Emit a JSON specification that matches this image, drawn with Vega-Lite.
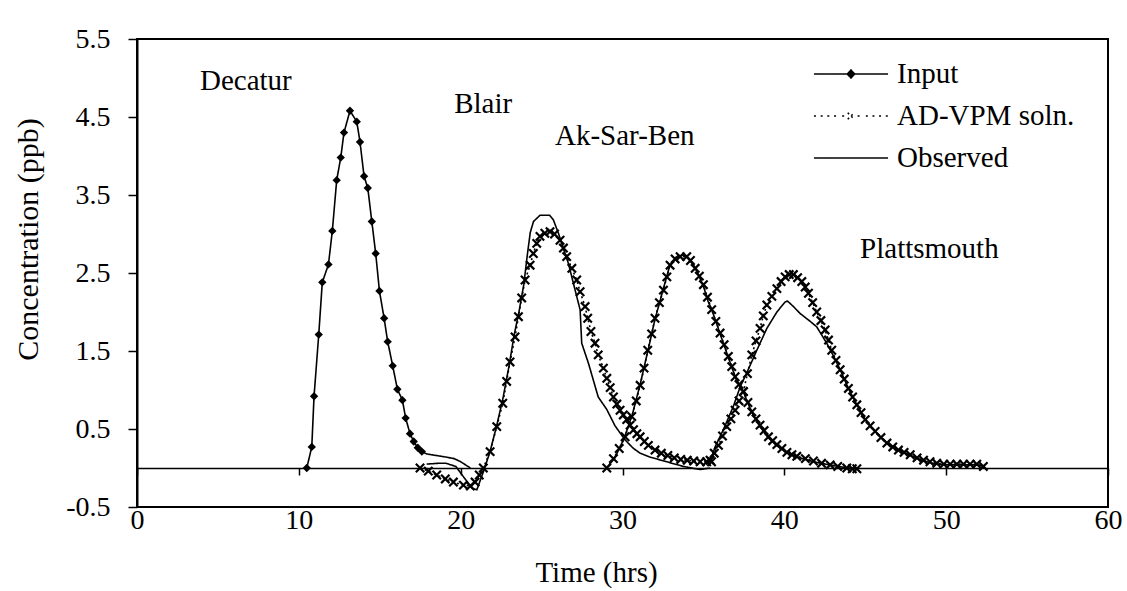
{
  "$schema": "https://vega.github.io/schema/vega-lite/v6.json",
  "width": 971,
  "height": 468,
  "autosize": {"type": "none"},
  "padding": {"left": 137, "top": 39, "right": 19, "bottom": 84},
  "background": "white",
  "config": {
    "view": {"stroke": "black", "strokeWidth": 2},
    "font": "Liberation Serif, Times New Roman, serif"
  },
  "datasets": {
    "curves": [
      {"series":"Input","station":"Decatur","t":10.49,"c":0.0},
      {"series":"Input","station":"Decatur","t":10.80,"c":0.27},
      {"series":"Input","station":"Decatur","t":10.94,"c":0.92},
      {"series":"Input","station":"Decatur","t":11.23,"c":1.71},
      {"series":"Input","station":"Decatur","t":11.45,"c":2.38},
      {"series":"Input","station":"Decatur","t":11.83,"c":2.61},
      {"series":"Input","station":"Decatur","t":12.07,"c":3.04},
      {"series":"Input","station":"Decatur","t":12.34,"c":3.69},
      {"series":"Input","station":"Decatur","t":12.59,"c":3.98},
      {"series":"Input","station":"Decatur","t":12.79,"c":4.30},
      {"series":"Input","station":"Decatur","t":13.16,"c":4.58},
      {"series":"Input","station":"Decatur","t":13.58,"c":4.44},
      {"series":"Input","station":"Decatur","t":13.78,"c":4.18},
      {"series":"Input","station":"Decatur","t":14.03,"c":3.74},
      {"series":"Input","station":"Decatur","t":14.26,"c":3.59},
      {"series":"Input","station":"Decatur","t":14.51,"c":3.16},
      {"series":"Input","station":"Decatur","t":14.75,"c":2.75},
      {"series":"Input","station":"Decatur","t":14.98,"c":2.27},
      {"series":"Input","station":"Decatur","t":15.27,"c":1.92},
      {"series":"Input","station":"Decatur","t":15.49,"c":1.62},
      {"series":"Input","station":"Decatur","t":15.80,"c":1.31},
      {"series":"Input","station":"Decatur","t":16.09,"c":1.01},
      {"series":"Input","station":"Decatur","t":16.40,"c":0.87},
      {"series":"Input","station":"Decatur","t":16.60,"c":0.64},
      {"series":"Input","station":"Decatur","t":16.87,"c":0.44},
      {"series":"Input","station":"Decatur","t":17.10,"c":0.34},
      {"series":"Input","station":"Decatur","t":17.35,"c":0.26},
      {"series":"Input","station":"Decatur","t":17.60,"c":0.21},
      {"series":"Input","station":"Decatur","t":17.90,"c":0.18},
      {"series":"Input","station":"Decatur","t":18.50,"c":0.16},
      {"series":"Input","station":"Decatur","t":19.10,"c":0.14},
      {"series":"Input","station":"Decatur","t":19.60,"c":0.12},
      {"series":"Input","station":"Decatur","t":20.00,"c":0.08},
      {"series":"Input","station":"Decatur","t":20.30,"c":0.04},
      {"series":"Input","station":"Decatur","t":20.60,"c":0.0},

      {"series":"AD-VPM soln.","station":"Blair","t":17.49,"c":0.0},
      {"series":"AD-VPM soln.","station":"Blair","t":18.0,"c":-0.04},
      {"series":"AD-VPM soln.","station":"Blair","t":18.52,"c":-0.09},
      {"series":"AD-VPM soln.","station":"Blair","t":19.05,"c":-0.14},
      {"series":"AD-VPM soln.","station":"Blair","t":19.55,"c":-0.18},
      {"series":"AD-VPM soln.","station":"Blair","t":20.17,"c":-0.22},
      {"series":"AD-VPM soln.","station":"Blair","t":20.6,"c":-0.23},
      {"series":"AD-VPM soln.","station":"Blair","t":20.89,"c":-0.18},
      {"series":"AD-VPM soln.","station":"Blair","t":21.15,"c":-0.09},
      {"series":"AD-VPM soln.","station":"Blair","t":21.4,"c":0.0},
      {"series":"AD-VPM soln.","station":"Blair","t":21.82,"c":0.21},
      {"series":"AD-VPM soln.","station":"Blair","t":22.23,"c":0.53},
      {"series":"AD-VPM soln.","station":"Blair","t":22.6,"c":0.83},
      {"series":"AD-VPM soln.","station":"Blair","t":22.84,"c":1.11},
      {"series":"AD-VPM soln.","station":"Blair","t":23.05,"c":1.36},
      {"series":"AD-VPM soln.","station":"Blair","t":23.36,"c":1.68},
      {"series":"AD-VPM soln.","station":"Blair","t":23.57,"c":1.94},
      {"series":"AD-VPM soln.","station":"Blair","t":23.77,"c":2.18},
      {"series":"AD-VPM soln.","station":"Blair","t":23.98,"c":2.41},
      {"series":"AD-VPM soln.","station":"Blair","t":24.29,"c":2.60},
      {"series":"AD-VPM soln.","station":"Blair","t":24.49,"c":2.75},
      {"series":"AD-VPM soln.","station":"Blair","t":24.7,"c":2.88},
      {"series":"AD-VPM soln.","station":"Blair","t":24.9,"c":2.97},
      {"series":"AD-VPM soln.","station":"Blair","t":25.2,"c":3.01},
      {"series":"AD-VPM soln.","station":"Blair","t":25.52,"c":3.03},
      {"series":"AD-VPM soln.","station":"Blair","t":25.8,"c":3.0},
      {"series":"AD-VPM soln.","station":"Blair","t":26.14,"c":2.92},
      {"series":"AD-VPM soln.","station":"Blair","t":26.35,"c":2.82},
      {"series":"AD-VPM soln.","station":"Blair","t":26.55,"c":2.71},
      {"series":"AD-VPM soln.","station":"Blair","t":26.87,"c":2.56},
      {"series":"AD-VPM soln.","station":"Blair","t":27.17,"c":2.41},
      {"series":"AD-VPM soln.","station":"Blair","t":27.38,"c":2.26},
      {"series":"AD-VPM soln.","station":"Blair","t":27.69,"c":2.07},
      {"series":"AD-VPM soln.","station":"Blair","t":27.85,"c":1.92},
      {"series":"AD-VPM soln.","station":"Blair","t":28.05,"c":1.75},
      {"series":"AD-VPM soln.","station":"Blair","t":28.3,"c":1.60},
      {"series":"AD-VPM soln.","station":"Blair","t":28.5,"c":1.45},
      {"series":"AD-VPM soln.","station":"Blair","t":28.82,"c":1.28},
      {"series":"AD-VPM soln.","station":"Blair","t":29.03,"c":1.15},
      {"series":"AD-VPM soln.","station":"Blair","t":29.24,"c":1.03},
      {"series":"AD-VPM soln.","station":"Blair","t":29.44,"c":0.91},
      {"series":"AD-VPM soln.","station":"Blair","t":29.65,"c":0.82},
      {"series":"AD-VPM soln.","station":"Blair","t":29.85,"c":0.74},
      {"series":"AD-VPM soln.","station":"Blair","t":30.05,"c":0.68},
      {"series":"AD-VPM soln.","station":"Blair","t":30.26,"c":0.62},
      {"series":"AD-VPM soln.","station":"Blair","t":30.47,"c":0.55},
      {"series":"AD-VPM soln.","station":"Blair","t":30.68,"c":0.49},
      {"series":"AD-VPM soln.","station":"Blair","t":30.89,"c":0.44},
      {"series":"AD-VPM soln.","station":"Blair","t":31.09,"c":0.40},
      {"series":"AD-VPM soln.","station":"Blair","t":31.35,"c":0.34},
      {"series":"AD-VPM soln.","station":"Blair","t":31.6,"c":0.29},
      {"series":"AD-VPM soln.","station":"Blair","t":32.01,"c":0.23},
      {"series":"AD-VPM soln.","station":"Blair","t":32.4,"c":0.19},
      {"series":"AD-VPM soln.","station":"Blair","t":32.8,"c":0.16},
      {"series":"AD-VPM soln.","station":"Blair","t":33.2,"c":0.13},
      {"series":"AD-VPM soln.","station":"Blair","t":33.6,"c":0.11},
      {"series":"AD-VPM soln.","station":"Blair","t":34.0,"c":0.10},
      {"series":"AD-VPM soln.","station":"Blair","t":34.4,"c":0.09},
      {"series":"AD-VPM soln.","station":"Blair","t":34.8,"c":0.08},
      {"series":"AD-VPM soln.","station":"Blair","t":35.2,"c":0.08},
      {"series":"AD-VPM soln.","station":"Blair","t":35.5,"c":0.08},

      {"series":"Observed","station":"Blair","t":17.9,"c":0.05},
      {"series":"Observed","station":"Blair","t":18.6,"c":0.06},
      {"series":"Observed","station":"Blair","t":19.1,"c":0.06},
      {"series":"Observed","station":"Blair","t":19.7,"c":0.02},
      {"series":"Observed","station":"Blair","t":20.2,"c":-0.12},
      {"series":"Observed","station":"Blair","t":20.7,"c":-0.26},
      {"series":"Observed","station":"Blair","t":21.0,"c":-0.28},
      {"series":"Observed","station":"Blair","t":21.4,"c":-0.05},
      {"series":"Observed","station":"Blair","t":21.8,"c":0.2},
      {"series":"Observed","station":"Blair","t":22.2,"c":0.52},
      {"series":"Observed","station":"Blair","t":22.6,"c":0.88},
      {"series":"Observed","station":"Blair","t":23.0,"c":1.32},
      {"series":"Observed","station":"Blair","t":23.3,"c":1.70},
      {"series":"Observed","station":"Blair","t":23.6,"c":2.0},
      {"series":"Observed","station":"Blair","t":23.9,"c":2.35},
      {"series":"Observed","station":"Blair","t":24.1,"c":2.7},
      {"series":"Observed","station":"Blair","t":24.3,"c":3.02},
      {"series":"Observed","station":"Blair","t":24.5,"c":3.16},
      {"series":"Observed","station":"Blair","t":24.9,"c":3.24},
      {"series":"Observed","station":"Blair","t":25.5,"c":3.24},
      {"series":"Observed","station":"Blair","t":25.73,"c":3.18},
      {"series":"Observed","station":"Blair","t":26.04,"c":3.01},
      {"series":"Observed","station":"Blair","t":26.66,"c":2.62},
      {"series":"Observed","station":"Blair","t":27.17,"c":2.20},
      {"series":"Observed","station":"Blair","t":27.38,"c":2.03},
      {"series":"Observed","station":"Blair","t":27.48,"c":1.60},
      {"series":"Observed","station":"Blair","t":27.9,"c":1.34},
      {"series":"Observed","station":"Blair","t":28.5,"c":0.91},
      {"series":"Observed","station":"Blair","t":29.03,"c":0.75},
      {"series":"Observed","station":"Blair","t":29.54,"c":0.54},
      {"series":"Observed","station":"Blair","t":30.16,"c":0.36},
      {"series":"Observed","station":"Blair","t":30.68,"c":0.25},
      {"series":"Observed","station":"Blair","t":31.09,"c":0.19},
      {"series":"Observed","station":"Blair","t":31.7,"c":0.14},
      {"series":"Observed","station":"Blair","t":32.73,"c":0.08},
      {"series":"Observed","station":"Blair","t":33.76,"c":0.02},
      {"series":"Observed","station":"Blair","t":34.8,"c":-0.02},
      {"series":"Observed","station":"Blair","t":35.4,"c":0.0},

      {"series":"AD-VPM soln.","station":"Ak-Sar-Ben","t":29.03,"c":0.0},
      {"series":"AD-VPM soln.","station":"Ak-Sar-Ben","t":29.44,"c":0.12},
      {"series":"AD-VPM soln.","station":"Ak-Sar-Ben","t":29.8,"c":0.25},
      {"series":"AD-VPM soln.","station":"Ak-Sar-Ben","t":30.16,"c":0.40},
      {"series":"AD-VPM soln.","station":"Ak-Sar-Ben","t":30.57,"c":0.66},
      {"series":"AD-VPM soln.","station":"Ak-Sar-Ben","t":30.85,"c":0.86},
      {"series":"AD-VPM soln.","station":"Ak-Sar-Ben","t":31.09,"c":1.06},
      {"series":"AD-VPM soln.","station":"Ak-Sar-Ben","t":31.33,"c":1.28},
      {"series":"AD-VPM soln.","station":"Ak-Sar-Ben","t":31.56,"c":1.51},
      {"series":"AD-VPM soln.","station":"Ak-Sar-Ben","t":31.8,"c":1.72},
      {"series":"AD-VPM soln.","station":"Ak-Sar-Ben","t":32.01,"c":1.92},
      {"series":"AD-VPM soln.","station":"Ak-Sar-Ben","t":32.28,"c":2.12},
      {"series":"AD-VPM soln.","station":"Ak-Sar-Ben","t":32.53,"c":2.28},
      {"series":"AD-VPM soln.","station":"Ak-Sar-Ben","t":32.74,"c":2.45},
      {"series":"AD-VPM soln.","station":"Ak-Sar-Ben","t":32.94,"c":2.60},
      {"series":"AD-VPM soln.","station":"Ak-Sar-Ben","t":33.25,"c":2.68},
      {"series":"AD-VPM soln.","station":"Ak-Sar-Ben","t":33.56,"c":2.71},
      {"series":"AD-VPM soln.","station":"Ak-Sar-Ben","t":33.97,"c":2.71},
      {"series":"AD-VPM soln.","station":"Ak-Sar-Ben","t":34.2,"c":2.66},
      {"series":"AD-VPM soln.","station":"Ak-Sar-Ben","t":34.49,"c":2.56},
      {"series":"AD-VPM soln.","station":"Ak-Sar-Ben","t":34.75,"c":2.46},
      {"series":"AD-VPM soln.","station":"Ak-Sar-Ben","t":35.0,"c":2.35},
      {"series":"AD-VPM soln.","station":"Ak-Sar-Ben","t":35.25,"c":2.19},
      {"series":"AD-VPM soln.","station":"Ak-Sar-Ben","t":35.51,"c":2.03},
      {"series":"AD-VPM soln.","station":"Ak-Sar-Ben","t":35.77,"c":1.88},
      {"series":"AD-VPM soln.","station":"Ak-Sar-Ben","t":36.03,"c":1.73},
      {"series":"AD-VPM soln.","station":"Ak-Sar-Ben","t":36.28,"c":1.58},
      {"series":"AD-VPM soln.","station":"Ak-Sar-Ben","t":36.54,"c":1.43},
      {"series":"AD-VPM soln.","station":"Ak-Sar-Ben","t":36.75,"c":1.30},
      {"series":"AD-VPM soln.","station":"Ak-Sar-Ben","t":36.96,"c":1.17},
      {"series":"AD-VPM soln.","station":"Ak-Sar-Ben","t":37.2,"c":1.07},
      {"series":"AD-VPM soln.","station":"Ak-Sar-Ben","t":37.47,"c":0.98},
      {"series":"AD-VPM soln.","station":"Ak-Sar-Ben","t":37.75,"c":0.84},
      {"series":"AD-VPM soln.","station":"Ak-Sar-Ben","t":37.99,"c":0.72},
      {"series":"AD-VPM soln.","station":"Ak-Sar-Ben","t":38.25,"c":0.63},
      {"series":"AD-VPM soln.","station":"Ak-Sar-Ben","t":38.5,"c":0.55},
      {"series":"AD-VPM soln.","station":"Ak-Sar-Ben","t":38.75,"c":0.48},
      {"series":"AD-VPM soln.","station":"Ak-Sar-Ben","t":39.02,"c":0.40},
      {"series":"AD-VPM soln.","station":"Ak-Sar-Ben","t":39.28,"c":0.35},
      {"series":"AD-VPM soln.","station":"Ak-Sar-Ben","t":39.54,"c":0.30},
      {"series":"AD-VPM soln.","station":"Ak-Sar-Ben","t":39.85,"c":0.25},
      {"series":"AD-VPM soln.","station":"Ak-Sar-Ben","t":40.16,"c":0.20},
      {"series":"AD-VPM soln.","station":"Ak-Sar-Ben","t":40.47,"c":0.17},
      {"series":"AD-VPM soln.","station":"Ak-Sar-Ben","t":40.77,"c":0.15},
      {"series":"AD-VPM soln.","station":"Ak-Sar-Ben","t":41.3,"c":0.12},
      {"series":"AD-VPM soln.","station":"Ak-Sar-Ben","t":41.8,"c":0.09},
      {"series":"AD-VPM soln.","station":"Ak-Sar-Ben","t":42.3,"c":0.06},
      {"series":"AD-VPM soln.","station":"Ak-Sar-Ben","t":42.83,"c":0.04},
      {"series":"AD-VPM soln.","station":"Ak-Sar-Ben","t":43.3,"c":0.02},
      {"series":"AD-VPM soln.","station":"Ak-Sar-Ben","t":43.86,"c":0.0},
      {"series":"AD-VPM soln.","station":"Ak-Sar-Ben","t":44.2,"c":-0.01},
      {"series":"AD-VPM soln.","station":"Ak-Sar-Ben","t":44.48,"c":-0.01},

      {"series":"Observed","station":"Ak-Sar-Ben","t":29.0,"c":0.0},
      {"series":"Observed","station":"Ak-Sar-Ben","t":29.5,"c":0.12},
      {"series":"Observed","station":"Ak-Sar-Ben","t":30.1,"c":0.38},
      {"series":"Observed","station":"Ak-Sar-Ben","t":30.6,"c":0.68},
      {"series":"Observed","station":"Ak-Sar-Ben","t":31.1,"c":1.08},
      {"series":"Observed","station":"Ak-Sar-Ben","t":31.6,"c":1.53},
      {"series":"Observed","station":"Ak-Sar-Ben","t":32.0,"c":1.90},
      {"series":"Observed","station":"Ak-Sar-Ben","t":32.5,"c":2.28},
      {"series":"Observed","station":"Ak-Sar-Ben","t":32.9,"c":2.58},
      {"series":"Observed","station":"Ak-Sar-Ben","t":33.3,"c":2.70},
      {"series":"Observed","station":"Ak-Sar-Ben","t":33.7,"c":2.73},
      {"series":"Observed","station":"Ak-Sar-Ben","t":34.0,"c":2.70},
      {"series":"Observed","station":"Ak-Sar-Ben","t":34.5,"c":2.57},
      {"series":"Observed","station":"Ak-Sar-Ben","t":35.0,"c":2.33},
      {"series":"Observed","station":"Ak-Sar-Ben","t":35.3,"c":2.13},
      {"series":"Observed","station":"Ak-Sar-Ben","t":35.5,"c":2.04},
      {"series":"Observed","station":"Ak-Sar-Ben","t":36.0,"c":1.74},
      {"series":"Observed","station":"Ak-Sar-Ben","t":36.5,"c":1.44},
      {"series":"Observed","station":"Ak-Sar-Ben","t":37.0,"c":1.15},
      {"series":"Observed","station":"Ak-Sar-Ben","t":37.5,"c":0.96},
      {"series":"Observed","station":"Ak-Sar-Ben","t":38.0,"c":0.71},
      {"series":"Observed","station":"Ak-Sar-Ben","t":38.5,"c":0.53},
      {"series":"Observed","station":"Ak-Sar-Ben","t":39.0,"c":0.39},
      {"series":"Observed","station":"Ak-Sar-Ben","t":39.5,"c":0.29},
      {"series":"Observed","station":"Ak-Sar-Ben","t":40.2,"c":0.19},
      {"series":"Observed","station":"Ak-Sar-Ben","t":40.8,"c":0.14},
      {"series":"Observed","station":"Ak-Sar-Ben","t":41.8,"c":0.08},
      {"series":"Observed","station":"Ak-Sar-Ben","t":42.8,"c":0.04},
      {"series":"Observed","station":"Ak-Sar-Ben","t":43.9,"c":0.0},
      {"series":"Observed","station":"Ak-Sar-Ben","t":44.5,"c":-0.01},

      {"series":"AD-VPM soln.","station":"Plattsmouth","t":35.41,"c":0.10},
      {"series":"AD-VPM soln.","station":"Plattsmouth","t":35.67,"c":0.19},
      {"series":"AD-VPM soln.","station":"Plattsmouth","t":35.93,"c":0.29},
      {"series":"AD-VPM soln.","station":"Plattsmouth","t":36.18,"c":0.41},
      {"series":"AD-VPM soln.","station":"Plattsmouth","t":36.44,"c":0.53},
      {"series":"AD-VPM soln.","station":"Plattsmouth","t":36.7,"c":0.63},
      {"series":"AD-VPM soln.","station":"Plattsmouth","t":36.96,"c":0.74},
      {"series":"AD-VPM soln.","station":"Plattsmouth","t":37.2,"c":0.86},
      {"series":"AD-VPM soln.","station":"Plattsmouth","t":37.47,"c":0.98},
      {"series":"AD-VPM soln.","station":"Plattsmouth","t":37.72,"c":1.21},
      {"series":"AD-VPM soln.","station":"Plattsmouth","t":37.99,"c":1.45},
      {"series":"AD-VPM soln.","station":"Plattsmouth","t":38.25,"c":1.63},
      {"series":"AD-VPM soln.","station":"Plattsmouth","t":38.5,"c":1.79},
      {"series":"AD-VPM soln.","station":"Plattsmouth","t":38.7,"c":1.95},
      {"series":"AD-VPM soln.","station":"Plattsmouth","t":38.92,"c":2.09},
      {"series":"AD-VPM soln.","station":"Plattsmouth","t":39.23,"c":2.20},
      {"series":"AD-VPM soln.","station":"Plattsmouth","t":39.54,"c":2.30},
      {"series":"AD-VPM soln.","station":"Plattsmouth","t":39.8,"c":2.39},
      {"series":"AD-VPM soln.","station":"Plattsmouth","t":40.05,"c":2.45},
      {"series":"AD-VPM soln.","station":"Plattsmouth","t":40.3,"c":2.48},
      {"series":"AD-VPM soln.","station":"Plattsmouth","t":40.56,"c":2.48},
      {"series":"AD-VPM soln.","station":"Plattsmouth","t":40.82,"c":2.44},
      {"series":"AD-VPM soln.","station":"Plattsmouth","t":41.08,"c":2.39},
      {"series":"AD-VPM soln.","station":"Plattsmouth","t":41.29,"c":2.32},
      {"series":"AD-VPM soln.","station":"Plattsmouth","t":41.49,"c":2.24},
      {"series":"AD-VPM soln.","station":"Plattsmouth","t":41.75,"c":2.12},
      {"series":"AD-VPM soln.","station":"Plattsmouth","t":42.0,"c":2.00},
      {"series":"AD-VPM soln.","station":"Plattsmouth","t":42.26,"c":1.89},
      {"series":"AD-VPM soln.","station":"Plattsmouth","t":42.52,"c":1.77},
      {"series":"AD-VPM soln.","station":"Plattsmouth","t":42.73,"c":1.64},
      {"series":"AD-VPM soln.","station":"Plattsmouth","t":42.93,"c":1.51},
      {"series":"AD-VPM soln.","station":"Plattsmouth","t":43.19,"c":1.38},
      {"series":"AD-VPM soln.","station":"Plattsmouth","t":43.45,"c":1.26},
      {"series":"AD-VPM soln.","station":"Plattsmouth","t":43.7,"c":1.14},
      {"series":"AD-VPM soln.","station":"Plattsmouth","t":43.96,"c":1.02},
      {"series":"AD-VPM soln.","station":"Plattsmouth","t":44.22,"c":0.91},
      {"series":"AD-VPM soln.","station":"Plattsmouth","t":44.48,"c":0.81},
      {"series":"AD-VPM soln.","station":"Plattsmouth","t":44.74,"c":0.71},
      {"series":"AD-VPM soln.","station":"Plattsmouth","t":45.0,"c":0.62},
      {"series":"AD-VPM soln.","station":"Plattsmouth","t":45.3,"c":0.54},
      {"series":"AD-VPM soln.","station":"Plattsmouth","t":45.61,"c":0.47},
      {"series":"AD-VPM soln.","station":"Plattsmouth","t":45.97,"c":0.39},
      {"series":"AD-VPM soln.","station":"Plattsmouth","t":46.34,"c":0.32},
      {"series":"AD-VPM soln.","station":"Plattsmouth","t":46.7,"c":0.27},
      {"series":"AD-VPM soln.","station":"Plattsmouth","t":47.05,"c":0.23},
      {"series":"AD-VPM soln.","station":"Plattsmouth","t":47.4,"c":0.20},
      {"series":"AD-VPM soln.","station":"Plattsmouth","t":47.78,"c":0.17},
      {"series":"AD-VPM soln.","station":"Plattsmouth","t":48.2,"c":0.13},
      {"series":"AD-VPM soln.","station":"Plattsmouth","t":48.6,"c":0.10},
      {"series":"AD-VPM soln.","station":"Plattsmouth","t":49.0,"c":0.08},
      {"series":"AD-VPM soln.","station":"Plattsmouth","t":49.42,"c":0.06},
      {"series":"AD-VPM soln.","station":"Plattsmouth","t":49.85,"c":0.05},
      {"series":"AD-VPM soln.","station":"Plattsmouth","t":50.25,"c":0.05},
      {"series":"AD-VPM soln.","station":"Plattsmouth","t":50.66,"c":0.05},
      {"series":"AD-VPM soln.","station":"Plattsmouth","t":51.07,"c":0.05},
      {"series":"AD-VPM soln.","station":"Plattsmouth","t":51.48,"c":0.05},
      {"series":"AD-VPM soln.","station":"Plattsmouth","t":51.89,"c":0.05},
      {"series":"AD-VPM soln.","station":"Plattsmouth","t":52.3,"c":0.02},

      {"series":"Observed","station":"Plattsmouth","t":35.41,"c":0.08},
      {"series":"Observed","station":"Plattsmouth","t":35.72,"c":0.27},
      {"series":"Observed","station":"Plattsmouth","t":36.23,"c":0.49},
      {"series":"Observed","station":"Plattsmouth","t":36.85,"c":0.79},
      {"series":"Observed","station":"Plattsmouth","t":37.27,"c":1.04},
      {"series":"Observed","station":"Plattsmouth","t":37.68,"c":1.22},
      {"series":"Observed","station":"Plattsmouth","t":38.3,"c":1.51},
      {"series":"Observed","station":"Plattsmouth","t":38.92,"c":1.79},
      {"series":"Observed","station":"Plattsmouth","t":39.54,"c":2.0},
      {"series":"Observed","station":"Plattsmouth","t":40.05,"c":2.13},
      {"series":"Observed","station":"Plattsmouth","t":40.2,"c":2.14},
      {"series":"Observed","station":"Plattsmouth","t":40.56,"c":2.07},
      {"series":"Observed","station":"Plattsmouth","t":40.98,"c":1.98},
      {"series":"Observed","station":"Plattsmouth","t":41.6,"c":1.88},
      {"series":"Observed","station":"Plattsmouth","t":42.0,"c":1.81},
      {"series":"Observed","station":"Plattsmouth","t":42.62,"c":1.60},
      {"series":"Observed","station":"Plattsmouth","t":43.0,"c":1.45},
      {"series":"Observed","station":"Plattsmouth","t":43.45,"c":1.26},
      {"series":"Observed","station":"Plattsmouth","t":43.96,"c":1.02},
      {"series":"Observed","station":"Plattsmouth","t":44.48,"c":0.81},
      {"series":"Observed","station":"Plattsmouth","t":45.0,"c":0.62},
      {"series":"Observed","station":"Plattsmouth","t":45.61,"c":0.47},
      {"series":"Observed","station":"Plattsmouth","t":46.34,"c":0.32},
      {"series":"Observed","station":"Plattsmouth","t":47.05,"c":0.23},
      {"series":"Observed","station":"Plattsmouth","t":47.78,"c":0.16},
      {"series":"Observed","station":"Plattsmouth","t":48.6,"c":0.09},
      {"series":"Observed","station":"Plattsmouth","t":49.42,"c":0.05},
      {"series":"Observed","station":"Plattsmouth","t":50.25,"c":0.04},
      {"series":"Observed","station":"Plattsmouth","t":51.07,"c":0.04},
      {"series":"Observed","station":"Plattsmouth","t":51.89,"c":0.04},
      {"series":"Observed","station":"Plattsmouth","t":52.3,"c":0.02}
    ],
    "labels": [
      {"label":"Decatur","t":3.89,"c":4.85},
      {"label":"Blair","t":19.6,"c":4.55},
      {"label":"Ak-Sar-Ben","t":25.83,"c":4.14},
      {"label":"Plattsmouth","t":44.68,"c":2.69}
    ]
  },
  "layer": [
    {
      "data": {"name": "curves"},
      "mark": {"type": "line", "strokeWidth": 1.6},
      "encoding": {
        "x": {
          "field": "t", "type": "quantitative",
          "scale": {"domain": [0, 60], "nice": false, "zero": false},
          "axis": {
            "values": [0, 10, 20, 30, 40, 50, 60],
            "offset": -39,
            "grid": false,
            "domainColor": "black", "domainWidth": 1.5,
            "tickColor": "black", "tickSize": 7, "tickWidth": 1.5,
            "labelPadding": 31, "labelFont": "Liberation Serif, Times New Roman, serif", "labelFontSize": 28,
            "labelColor": "black", "labelFlush": false, "labelOverlap": false,
            "title": "Time (hrs)", "titleFont": "Liberation Serif, Times New Roman, serif", "titleFontSize": 29,
            "titleFontWeight": "normal", "titleColor": "black", "titlePadding": 24,
            "titleX": 459
          }
        },
        "y": {
          "field": "c", "type": "quantitative",
          "scale": {"domain": [-0.5, 5.5], "nice": false, "zero": false},
          "axis": {
            "values": [-0.5, 0.5, 1.5, 2.5, 3.5, 4.5, 5.5],
            "labelExpr": "datum.value < 0 ? '-' + format(-datum.value, '.1f') : format(datum.value, '.1f')",
            "grid": false,
            "domainColor": "black", "domainWidth": 2,
            "tickColor": "black", "tickSize": 9, "tickWidth": 1.5,
            "labelPadding": 18, "labelFont": "Liberation Serif, Times New Roman, serif", "labelFontSize": 28,
            "labelColor": "black",
            "title": "Concentration (ppb)", "titleFont": "Liberation Serif, Times New Roman, serif", "titleFontSize": 30,
            "titleFontWeight": "normal", "titleColor": "black", "titlePadding": 22,
            "titleY": 200
          }
        },
        "detail": {"field": "station"},
        "color": {
          "field": "series", "type": "nominal",
          "scale": {"domain": ["Input", "AD-VPM soln.", "Observed"], "range": ["black", "black", "black"]},
          "legend": {
            "orient": "none", "legendX": 698, "legendY": 19,
            "title": null, "padding": 0,
            "labelFont": "Liberation Serif, Times New Roman, serif", "labelFontSize": 29, "labelColor": "black",
            "labelOffset": 30, "rowPadding": 11, "labelLimit": 400,
            "symbolSize": 900, "symbolStrokeWidth": 1.5,
            "encode": {
              "symbols": {
                "update": {
                  "shape": {"signal": "datum.value === 'Input' ? 'M-2.47,0H2.47M0,-0.27L0.25,0L0,0.27L-0.25,0Z' : datum.value === 'AD-VPM soln.' ? 'M-2.47,0H-2.32M-2.02,0H-1.87M-1.58,0H-1.43M-1.13,0H-0.99M-0.59,0H-0.44M-0.22,-0.22L0.22,0.22M-0.22,0.22L0.22,-0.22M0.44,0H0.59M0.99,0H1.13M1.43,0H1.58M1.87,0H2.02M2.32,0H2.47' : 'M-2.47,0H2.47'"},
                  "fill": {"value": "black"},
                  "stroke": {"value": "black"},
                  "strokeWidth": {"value": 1.5},
                  "strokeDash": {"value": []},
                  "opacity": {"value": 1}
                }
              }
            }
          }
        },
        "strokeDash": {
          "field": "series", "type": "nominal",
          "scale": {"domain": ["Input", "AD-VPM soln.", "Observed"], "range": [[1, 0], [2, 3], [1, 0]]},
          "legend": null
        }
      }
    },
    {
      "data": {"name": "curves"},
      "transform": [{"filter": "datum.series === 'Input' && datum.t <= 17.6"}],
      "mark": {"type": "point", "shape": "diamond", "filled": true, "color": "black", "size": 70, "opacity": 1},
      "encoding": {
        "x": {"field": "t", "type": "quantitative"},
        "y": {"field": "c", "type": "quantitative"}
      }
    },
    {
      "data": {"name": "curves"},
      "transform": [{"filter": "datum.series === 'AD-VPM soln.'"}],
      "mark": {"type": "point", "shape": "M-1,-1L1,1M-1,1L1,-1", "filled": false, "stroke": "black", "strokeWidth": 2.2, "size": 70, "opacity": 1},
      "encoding": {
        "x": {"field": "t", "type": "quantitative"},
        "y": {"field": "c", "type": "quantitative"}
      }
    },
    {
      "data": {"name": "labels"},
      "mark": {"type": "text", "font": "Liberation Serif, Times New Roman, serif", "fontSize": 29, "align": "left", "baseline": "alphabetic", "color": "black"},
      "encoding": {
        "x": {"field": "t", "type": "quantitative"},
        "y": {"field": "c", "type": "quantitative"},
        "text": {"field": "label"}
      }
    }
  ]
}
